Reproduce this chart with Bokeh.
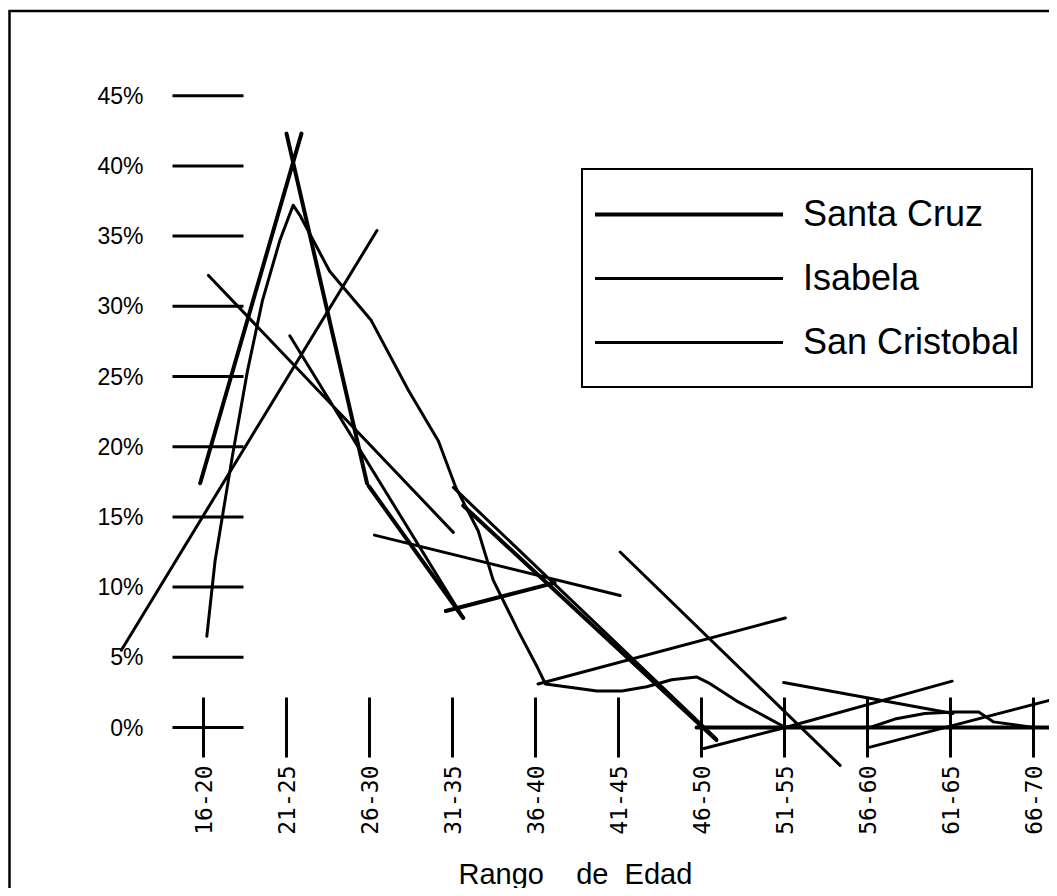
import math
from bokeh.plotting import figure
from bokeh.models import Range1d, Legend, LegendItem
from bokeh.embed import file_html
from bokeh.resources import INLINE
from bokeh.core.properties import value

NaN = float("nan")

# ---------------- data ----------------
CATEGORIES = ["16-20", "21-25", "26-30", "31-35", "36-40", "41-45",
              "46-50", "51-55", "56-60", "61-65", "66-70"]
Y_TICKS = [0, 5, 10, 15, 20, 25, 30, 35, 40, 45]
Y_TICK_LABELS = ["0%", "5%", "10%", "15%", "20%", "25%", "30%", "35%", "40%", "45%"]

# strokes: x = category index (0 = "16-20"), y = percent; NaN separates strokes
SANTA_CRUZ_X = [-0.04, 1.18, NaN, 1.00, 1.97, NaN, 1.99, 3.13, NaN,
                2.92, 4.23, NaN, 3.13, 6.18, NaN, 5.94, 10.3]
SANTA_CRUZ_Y = [17.4, 42.3, NaN, 42.3, 17.4, NaN, 17.2, 7.8, NaN,
                8.3, 10.3, NaN, 15.8, -0.9, NaN, 0.0, 0.0]

ISABELA_X = [0.04, 0.14, 0.35, 0.53, 0.71, 0.92, 1.08, 1.16, 1.52, 2.02, 2.47,
             2.83, 3.04, 3.31, 3.49, 3.79, 4.03, 4.12, 4.50, 4.74, 5.04, 5.34,
             5.64, 5.94, 6.08, 6.42, 7.01, 8.03, 8.33, 8.69, 9.04, 9.34, 9.52, 10.0]
ISABELA_Y = [6.5, 11.9, 19.4, 25.4, 30.4, 34.7, 37.2, 36.5, 32.5, 29.0, 24.0,
             20.4, 17.1, 14.0, 10.5, 6.9, 4.2, 3.1, 2.8, 2.6, 2.6, 2.9,
             3.4, 3.6, 3.2, 1.9, 0.0, 0.0, 0.6, 1.0, 1.1, 1.1, 0.4, 0.0]

SAN_CRISTOBAL_X = [-0.99, 2.09, NaN, 0.06, 3.01, NaN, 1.04, 3.13, NaN,
                   2.06, 5.02, NaN, 3.01, 6.18, NaN, 5.02, 7.67, NaN,
                   4.03, 7.01, NaN, 6.99, 9.03, NaN, 7.01, 9.02, NaN,
                   8.03, 10.3, NaN, 6.03, 7.01]
SAN_CRISTOBAL_Y = [5.5, 35.4, NaN, 32.2, 13.9, NaN, 27.9, 7.8, NaN,
                   13.7, 9.4, NaN, 17.1, -0.8, NaN, 12.5, -2.7, NaN,
                   3.1, 7.8, NaN, 3.2, 1.0, NaN, 0.0, 3.3, NaN,
                   -1.4, 2.1, NaN, -1.5, 0.0]

# ---------------- layout (pixels) ----------------
W, H = 1049, 888
PX_CAT = 83.0          # px per category step
PX_PCT = 14.04         # px per percentage point
X0_PX = 203            # canvas x of category 0
Y0_PX = 727            # canvas y (from top) of 0%


def cx(px):
    return (px - X0_PX) / PX_CAT


def cy(py):
    return (Y0_PX - py) / PX_PCT


p = figure(width=W, height=H, output_backend="svg", toolbar_location=None,
           x_range=Range1d(cx(0), cx(W)), y_range=Range1d(cy(H), cy(0)),
           x_axis_type=None, y_axis_type=None, min_border=0,
           outline_line_color=None, background_fill_color="white",
           border_fill_color="white")

# outer frame of the chart (left and top edges visible)
p.segment(x0=[cx(9), cx(8)], y0=[cy(10), cy(10.5)], x1=[cx(9), cx(W)], y1=[cy(H), cy(10.5)],
          line_color="black", line_width=2.5)

# y "axis": long tick marks and labels
p.segment(x0=[cx(172)] * len(Y_TICKS), x1=[cx(243)] * len(Y_TICKS),
          y0=Y_TICKS, y1=Y_TICKS, line_color="black", line_width=3)
p.text(x=[cx(143)] * len(Y_TICKS), y=Y_TICKS, text=Y_TICK_LABELS,
       text_align="right", text_baseline="middle",
       text_font=value("Liberation Sans"), text_font_size="23px", text_color="black")

# x "axis": vertical tick marks and rotated labels
idx = list(range(len(CATEGORIES)))
p.segment(x0=idx, x1=idx, y0=[cy(Y0_PX - 30)] * len(idx), y1=[cy(Y0_PX + 30)] * len(idx),
          line_color="black", line_width=3)
p.text(x=idx, y=[cy(Y0_PX + 38)] * len(idx), text=CATEGORIES, angle=math.pi / 2,
       text_align="right", text_baseline="middle",
       text_font=value("DejaVu Sans Mono"), text_font_size="23px", text_color="black")

p.text(x=[cx(458)], y=[cy(873)], text=["Rango\u00a0\u00a0\u00a0\u00a0de\u00a0\u00a0Edad"],
       text_align="left", text_baseline="alphabetic",
       text_font=value("Liberation Sans"), text_font_size="29px", text_color="black")

# series
r_sc = p.line(SANTA_CRUZ_X, SANTA_CRUZ_Y, line_color="black", line_width=4,
              line_cap="round", line_join="round")
r_is = p.line(ISABELA_X, ISABELA_Y, line_color="black", line_width=3,
              line_cap="round", line_join="round")
r_cr = p.line(SAN_CRISTOBAL_X, SAN_CRISTOBAL_Y, line_color="black", line_width=3,
              line_cap="round", line_join="round")

legend = Legend(items=[LegendItem(label="Santa Cruz", renderers=[r_sc]),
                       LegendItem(label="Isabela", renderers=[r_is]),
                       LegendItem(label="San Cristobal", renderers=[r_cr])],
                location=(581, 500), orientation="vertical",
                glyph_width=188, glyph_height=64, label_height=64, spacing=0,
                label_standoff=20, padding=12, margin=0,
                label_text_font="Liberation Sans", label_text_font_size="36px",
                label_text_color="black",
                border_line_color="black", border_line_width=2.5, border_line_alpha=1.0,
                background_fill_color="white", background_fill_alpha=1.0)
p.add_layout(legend)

open("out.html", "w").write(file_html(p, INLINE))
